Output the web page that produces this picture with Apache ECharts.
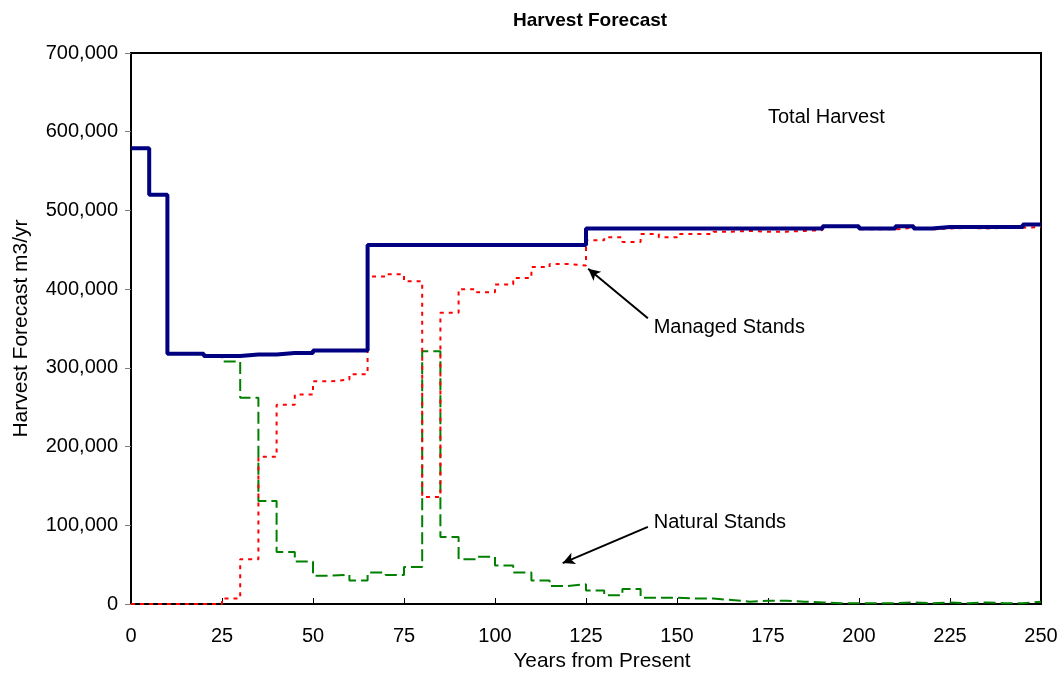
<!DOCTYPE html>
<html>
<head>
<meta charset="utf-8">
<script src="https://cdn.jsdelivr.net/npm/echarts@6/dist/echarts.min.js"></script>
<style>
html,body{margin:0;padding:0;background:#fff;}
#chart{width:1062px;height:677px;}
</style>
</head>
<body>
<div id="chart"></div>
<script>
// Period start years (5-year periods), final point closes the step at 250
const years = [0,5,10,15,20,25,30,35,40,45,50,55,60,65,70,75,80,85,90,95,100,105,110,115,120,125,130,135,140,145,150,155,160,165,170,175,180,185,190,195,200,205,210,215,220,225,230,235,240,245];
const endYear = 250;

const totalHarvest = [579000,520000,318000,318000,315000,315000,317000,317000,319000,319000,322000,322000,322000,
  456000,456000,456000,456000,456000,456000,456000,456000,456000,456000,456000,456000,
  477000,477000,477000,477000,477000,477000,477000,477000,477000,477000,477000,477000,477000,
  480000,480000,477000,477000,480000,477000,479000,479000,479000,479000,479000,482000];

const managedStands = [0,0,0,0,0,7000,57000,187000,253000,266000,283000,285000,292000,
  416000,419000,410000,136000,370000,400000,396000,406000,414000,428000,432000,430000,462000,466000,460000,470000,466000,470000,470000,473000,
  474000,473000,473000,474000,475000,479000,479000,476000,476000,478000,476000,477000,478000,477000,478000,478000,479000];

const naturalStands = [579000,520000,318000,318000,315000,308000,262000,131000,66000,54000,36000,37000,30000,
  40000,37000,47000,321000,85000,57000,60000,49000,40000,30000,23000,25000,17000,11000,19000,8000,8000,7000,7000,5000,
  3000,4000,4000,3000,2000,1000,1000,1000,1000,2000,1000,2000,1000,2000,1000,1000,3000];

const xTicks = [0,25,50,75,100,125,150,175,200,225,250];

// Annotations in data coordinates
const labelTexts = [
  {text: 'Total Harvest', at: [175, 618000]},
  {text: 'Managed Stands', at: [143.6, 351000]},
  {text: 'Natural Stands', at: [143.6, 104000]}
];
const arrows = [
  {from: [142, 363000], to: [125.6, 426000]},
  {from: [142, 98000], to: [118.6, 52000]}
];

function toSteps(vals){
  const d = years.map((y,i)=>[y, vals[i]]);
  d.push([endYear, vals[vals.length-1]]);
  return d;
}

const FONT = 'Liberation Sans, Arial, sans-serif';
const chart = echarts.init(document.getElementById('chart'), null, {renderer:'canvas'});

const option = {
  backgroundColor: '#fff',
  animation: false,
  title: {
    text: 'Harvest Forecast',
    left: 508, top: 6,
    textStyle: {fontFamily: FONT, fontWeight: 'bold', fontSize: 19, color: '#000'}
  },
  grid: {left: 131, right: 21, top: 53, bottom: 73, show: true, borderColor: '#000', borderWidth: 2, containLabel: false},
  xAxis: {
    type: 'value', min: 0, max: 250, interval: 25,
    name: 'Years from Present', nameLocation: 'middle', nameGap: 47,
    nameTextStyle: {fontFamily: FONT, fontSize: 20.8, color: '#000', padding: [0, 0, 0, 32]},
    axisLine: {show: true, lineStyle: {color: '#000', width: 2}},
    axisTick: {show: true, inside: true, length: 6, lineStyle: {color: '#000', width: 1}},
    axisLabel: {fontFamily: FONT, fontSize: 20, color: '#000', margin: 22,
      customValues: xTicks},
    splitLine: {show: false}
  },
  yAxis: {
    type: 'value', min: 0, max: 700000, interval: 100000,
    name: 'Harvest Forecast m3/yr', nameLocation: 'middle', nameGap: 99, nameRotate: 90,
    nameTextStyle: {fontFamily: FONT, fontSize: 21, color: '#000'},
    axisLine: {show: true, lineStyle: {color: '#000', width: 2}},
    axisTick: {show: true, inside: false, length: 6, lineStyle: {color: '#808080', width: 1}},
    axisLabel: {fontFamily: FONT, fontSize: 20, color: '#000', margin: 13,
      formatter: v => v.toLocaleString('en-US')},
    splitLine: {show: false}
  },
  series: [
    {
      name: 'Natural Stands', type: 'line', step: 'end', symbol: 'none',
      data: toSteps(naturalStands),
      lineStyle: {color: '#008000', width: 2, type: [12, 5]}, z: 2
    },
    {
      name: 'Managed Stands', type: 'line', step: 'end', symbol: 'none',
      data: toSteps(managedStands),
      lineStyle: {color: '#ff0000', width: 2, type: [4, 5]}, z: 3
    },
    {
      name: 'Total Harvest', type: 'line', step: 'end', symbol: 'none',
      data: toSteps(totalHarvest),
      lineStyle: {color: '#000080', width: 4}, z: 4,
      markLine: {
        silent: true, symbol: ['none', 'arrow'], symbolSize: [9, 12],
        lineStyle: {color: '#000', width: 2, type: 'solid'},
        label: {show: false},
        data: arrows.map(a => [{coord: a.from}, {coord: a.to}])
      },
      markPoint: {
        silent: true, symbol: 'circle', symbolSize: 0,
        label: {show: true, position: 'right', distance: 0, fontFamily: FONT, fontSize: 20, color: '#000',
          formatter: p => p.name},
        data: labelTexts.map(t => ({name: t.text, coord: t.at}))
      }
    }
  ]
};
chart.setOption(option);
</script>
</body>
</html>
